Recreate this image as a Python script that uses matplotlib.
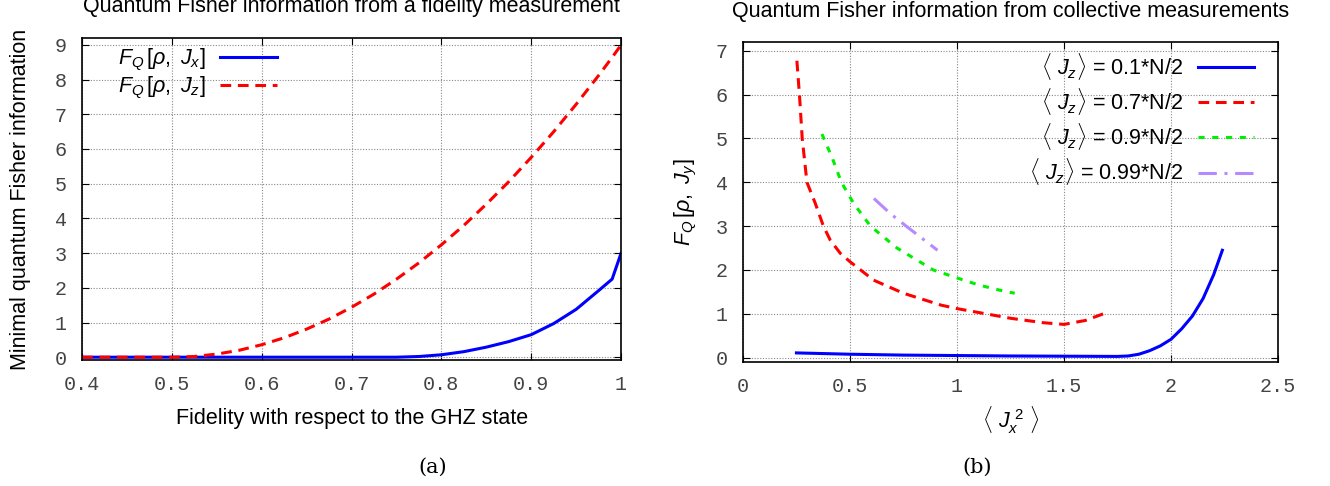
import numpy as np
import matplotlib
matplotlib.use("Agg")
import matplotlib.pyplot as plt

# (a) fidelity measurement
fid = [0.40, 0.45, 0.50, 0.525, 0.55, 0.575, 0.60, 0.625, 0.65, 0.675, 0.70, 0.725, 0.75,
       0.775, 0.80, 0.825, 0.85, 0.875, 0.90, 0.925, 0.95, 0.975, 0.99, 1.00]
fq_jz = [0.0, 0.0, 0.0, 0.02, 0.09, 0.20, 0.36, 0.56, 0.81, 1.10, 1.44, 1.82, 2.25,
         2.72, 3.24, 3.80, 4.41, 5.06, 5.76, 6.50, 7.29, 8.12, 8.64, 9.0]
fq_jx = [0.0, 0.0, 0.0, 0.0, 0.0, 0.0, 0.0, 0.0, 0.0, 0.0, 0.0, 0.0, 0.0,
         0.02, 0.07, 0.16, 0.29, 0.45, 0.65, 0.97, 1.38, 1.92, 2.25, 3.0]

# (b) collective measurements
jx2_01 = [0.25, 0.5, 0.75, 1.0, 1.25, 1.5, 1.75, 1.8, 1.85, 1.9, 1.95, 2.0, 2.05, 2.1, 2.15, 2.2, 2.24]
fq_01 = [0.11, 0.08, 0.06, 0.05, 0.04, 0.035, 0.03, 0.04, 0.08, 0.16, 0.27, 0.42, 0.66, 0.95, 1.35, 1.9, 2.45]

jx2_07 = [0.252, 0.264, 0.277, 0.299, 0.338, 0.376, 0.408, 0.455, 0.5, 0.55, 0.61, 0.75, 0.925,
          1.0, 1.25, 1.4, 1.5, 1.6, 1.7]
fq_07 = [6.77, 6.0, 5.0, 4.0, 3.52, 3.0, 2.68, 2.38, 2.19, 2.0, 1.77, 1.47, 1.2,
         1.12, 0.9, 0.8, 0.76, 0.85, 1.03]

jx2_09 = [0.369, 0.416, 0.46, 0.517, 0.596, 0.72, 0.89, 1.0, 1.1, 1.2, 1.27]
fq_09 = [5.1, 4.57, 4.0, 3.52, 3.0, 2.5, 2.0, 1.82, 1.66, 1.54, 1.47]

jx2_099 = [0.612, 0.69, 0.768, 0.84, 0.909]
fq_099 = [3.63, 3.28, 2.98, 2.71, 2.45]

plt.rcParams["font.family"] = ["Liberation Sans", "DejaVu Sans"]
plt.rcParams["mathtext.fontset"] = "custom"
plt.rcParams["mathtext.rm"] = "Liberation Sans"
plt.rcParams["mathtext.it"] = "Liberation Sans:italic"

LABEL_SIZE = 15.5


def style_axes(ax):
    ax.grid(True, linestyle=(0, (1, 1.5)), color="#888888", linewidth=0.8)
    ax.tick_params(direction="in", top=True, right=True, length=5, width=0.8)
    ax.tick_params(axis="x", pad=11)
    ax.tick_params(axis="y", pad=11)
    for lbl in ax.get_xticklabels() + ax.get_yticklabels():
        lbl.set_fontfamily("Liberation Mono")
        lbl.set_fontsize(14.5)
        lbl.set_color("#444444")
    for s in ax.spines.values():
        s.set_linewidth(1.2)


fig = plt.figure(figsize=(13.3, 4.86), dpi=100)
ax1 = fig.add_axes([0.0617, 0.2593, 0.4053, 0.6626])
ax2 = fig.add_axes([0.5586, 0.2558, 0.4023, 0.658])

# left panel
ax1.plot(fid, fq_jx, color="#0000ff", lw=2.2, label=r"$F_Q\,[\rho,\ J_x]$")
ax1.plot(fid, fq_jz, color="#ff0000", lw=2.2, linestyle=(0, (3.5, 2.2)), label=r"$F_Q\,[\rho,\ J_z]$")
ax1.set_xlim(0.4, 1.0)
ax1.set_ylim(-0.08, 9.2)
ax1.set_xticks([0.4, 0.5, 0.6, 0.7, 0.8, 0.9, 1.0])
ax1.set_xticklabels(["0.4", "0.5", "0.6", "0.7", "0.8", "0.9", "1"])
ax1.set_yticks(range(10))
style_axes(ax1)
ax1.set_xlabel("Fidelity with respect to the GHZ state", fontsize=LABEL_SIZE, labelpad=10)
ax1.set_ylabel("Minimal quantum Fisher information", fontsize=LABEL_SIZE, labelpad=17)
ax1.set_title("Quantum Fisher information from a fidelity measurement", fontsize=LABEL_SIZE, pad=19)
ax1.legend(loc="upper left", bbox_to_anchor=(0.05, 1.0), frameon=False, markerfirst=False,
           fontsize=LABEL_SIZE, handlelength=2.65, labelspacing=0.1, handletextpad=0.7,
           borderaxespad=0.0)
fig.text(0.325, 0.027, "(a)", family="DejaVu Serif", fontsize=15, ha="center")

# right panel
ax2.plot(jx2_01, fq_01, color="#0000ff", lw=2.2, label=r"$\langle\ J_z\rangle$ = 0.1*N/2")
ax2.plot(jx2_07, fq_07, color="#ff0000", lw=2.2, linestyle=(0, (3.5, 2.2)), label=r"$\langle\ J_z\rangle$ = 0.7*N/2")
ax2.plot(jx2_09, fq_09, color="#00ee00", lw=2.2, linestyle=(0, (2, 2.5)), label=r"$\langle\ J_z\rangle$ = 0.9*N/2")
ax2.plot(jx2_099, fq_099, color="#b58aff", lw=2.2, linestyle=(0, (6, 2.5, 1, 2.5)), label=r"$\langle\ J_z\rangle$ = 0.99*N/2")
ax2.set_xlim(0, 2.5)
ax2.set_ylim(-0.09, 7.2)
ax2.set_xticks([0, 0.5, 1, 1.5, 2, 2.5])
ax2.set_xticklabels(["0", "0.5", "1", "1.5", "2", "2.5"])
ax2.set_yticks(range(8))
style_axes(ax2)
ax2.set_xlabel(r"$\langle\ J_x^{\ 2}\ \rangle$", fontsize=LABEL_SIZE, labelpad=6)
ax2.set_ylabel(r"$F_Q\,[\rho,\ J_y]$", fontsize=LABEL_SIZE, labelpad=12)
ax2.set_title("Quantum Fisher information from collective measurements", fontsize=LABEL_SIZE, pad=18)
ax2.legend(loc="upper right", bbox_to_anchor=(0.972, 1.0), frameon=False, markerfirst=False,
           fontsize=LABEL_SIZE, handlelength=2.6, labelspacing=0.2, handletextpad=0.7,
           borderaxespad=0.0)
fig.text(0.735, 0.027, "(b)", family="DejaVu Serif", fontsize=15, ha="center")

fig.savefig("out.png", dpi=100)
